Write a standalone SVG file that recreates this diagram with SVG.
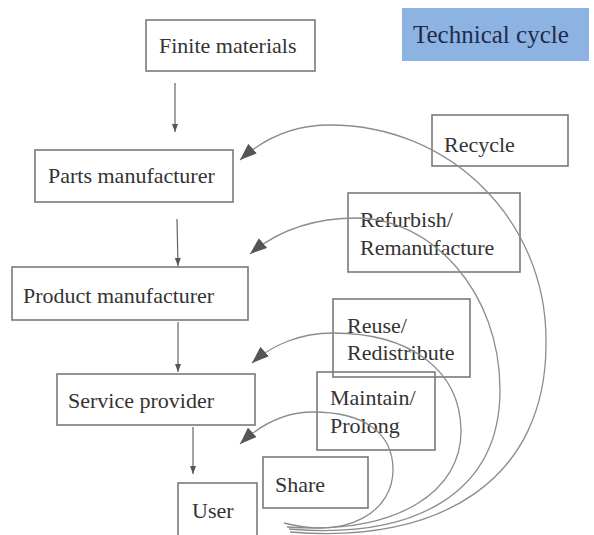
<svg xmlns="http://www.w3.org/2000/svg" width="594" height="535" viewBox="0 0 594 535">
  <style>
    .box { fill: none; stroke: #7a7a7a; stroke-width: 1.6; }
    .lbl { font-family: 'Liberation Serif', 'Times New Roman', serif; font-size: 22px; fill: #333333; }
    .title { font-family: 'Liberation Serif', 'Times New Roman', serif; font-size: 25px; fill: #1f2b4a; }
    .flow { fill: none; stroke: #666666; stroke-width: 1.2; }
    .loop { fill: none; stroke: #8c8c8c; stroke-width: 1.3; }
  </style>
  <defs>
    <marker id="big" viewBox="0 0 16 12" refX="16" refY="6" markerWidth="17" markerHeight="13" markerUnits="userSpaceOnUse" orient="auto">
      <path d="M0,0 L16,6 L0,12 z" fill="#555555"/>
    </marker>
    <marker id="small" viewBox="0 0 8 6" refX="8" refY="3" markerWidth="8" markerHeight="6" markerUnits="userSpaceOnUse" orient="auto">
      <path d="M0,0 L8,3 L0,6 z" fill="#555555"/>
    </marker>
  </defs>
  <rect width="594" height="535" fill="#ffffff"/>

  <g id="technical-cycle">
    <rect x="402" y="8" width="187" height="53" fill="#8db3e2"/>
    <text class="title" x="413" y="43">Technical cycle</text>
  </g>
  <g id="finite-materials">
    <rect class="box" x="146" y="20" width="169" height="51"/>
    <text class="lbl" x="159" y="53">Finite materials</text>
  </g>
  <g id="parts-manufacturer">
    <rect class="box" x="35" y="150" width="198" height="52"/>
    <text class="lbl" x="48" y="183">Parts manufacturer</text>
  </g>
  <g id="product-manufacturer">
    <rect class="box" x="12" y="267" width="236" height="53"/>
    <text class="lbl" x="23" y="303">Product manufacturer</text>
  </g>
  <g id="service-provider">
    <rect class="box" x="57" y="374" width="198" height="51"/>
    <text class="lbl" x="68" y="408">Service provider</text>
  </g>
  <g id="user">
    <rect class="box" x="178" y="483" width="79" height="56"/>
    <text class="lbl" x="192" y="518">User</text>
  </g>
  <g id="recycle">
    <rect class="box" x="432" y="115" width="136" height="51"/>
    <text class="lbl" x="444" y="152">Recycle</text>
  </g>
  <g id="refurbish">
    <rect class="box" x="348" y="193" width="172" height="79"/>
    <text class="lbl" x="360" y="227">Refurbish/</text>
    <text class="lbl" x="360" y="255">Remanufacture</text>
  </g>
  <g id="reuse">
    <rect class="box" x="333" y="299" width="137" height="78"/>
    <text class="lbl" x="347" y="333">Reuse/</text>
    <text class="lbl" x="347" y="360">Redistribute</text>
  </g>
  <g id="maintain">
    <rect class="box" x="317" y="372" width="118" height="78"/>
    <text class="lbl" x="330" y="405">Maintain/</text>
    <text class="lbl" x="330" y="433">Prolong</text>
  </g>
  <g id="share">
    <rect class="box" x="263" y="457" width="105" height="51"/>
    <text class="lbl" x="275" y="492">Share</text>
  </g>

  <g id="connectors">
    <line class="flow" x1="175" y1="83" x2="175" y2="132" marker-end="url(#small)"/>
    <line class="flow" x1="177" y1="219" x2="178" y2="266" marker-end="url(#small)"/>
    <line class="flow" x1="178" y1="322" x2="178" y2="372" marker-end="url(#small)"/>
    <line class="flow" x1="193" y1="427" x2="193" y2="474" marker-end="url(#small)"/>

    <path class="loop" d="M 290 532 C 440 545, 548 480, 546 340 C 546 220, 450 125, 330 125 C 290 125, 262 140, 240 160" marker-end="url(#big)"/>
    <path class="loop" d="M 289 529 C 420 540, 500 490, 500 390 C 500 290, 430 218, 357 218 C 312 218, 276 232, 250 254" marker-end="url(#big)"/>
    <path class="loop" d="M 287 527 C 400 535, 462 490, 461 430 C 460 370, 410 333, 333 333 C 300 333, 272 345, 252 363" marker-end="url(#big)"/>
    <path class="loop" d="M 284 523 C 350 540, 393 510, 393 470 C 393 430, 360 412, 313 412 C 285 412, 260 425, 240 444" marker-end="url(#big)"/>
  </g>
</svg>
